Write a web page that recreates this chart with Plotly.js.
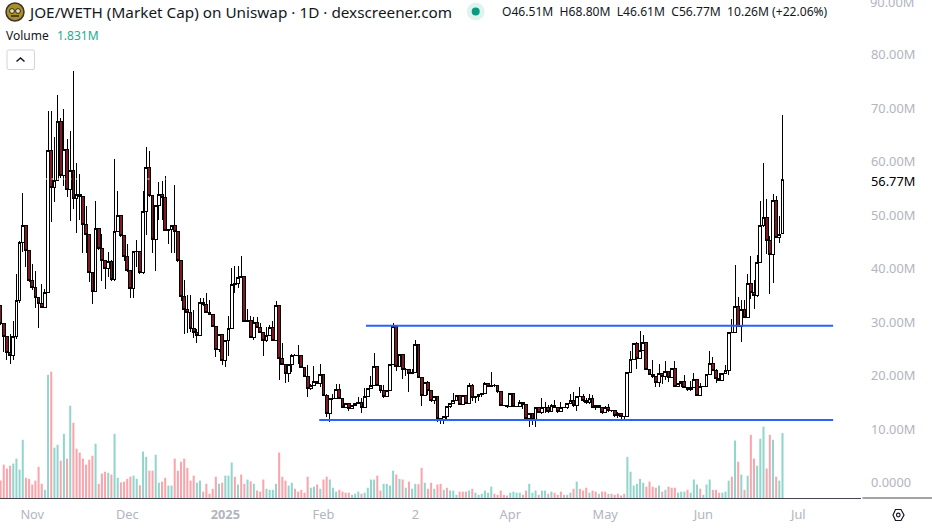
<!DOCTYPE html>
<html><head><meta charset="utf-8">
<script src="https://cdn.plot.ly/plotly-3.0.1.min.js"></script>
<style>
html,body{margin:0;padding:0;background:#fff;overflow:hidden}
#chart{width:932px;height:528px}
.boxlayer path{shape-rendering:crispEdges}
</style></head><body><div id="chart"></div>
<script>
const startDate = "2024-10-22";
const openM = [33.1,29.7,27.4,24.3,23.8,27.4,34.0,45.0,48.0,43.5,
37.8,36.6,34.7,33.5,32.8,35.6,62.1,55.2,56.4,67.6,
57.4,62.3,54.8,58.4,53.1,53.9,53.5,48.2,46.4,39.3,
35.7,47.5,43.8,41.6,40.0,41.4,38.0,46.9,49.9,46.2,
42.3,39.6,36.4,43.2,43.3,39.3,50.7,58.9,53.6,45.5,
51.9,53.9,53.3,47.2,47.4,48.1,47.0,41.6,34.8,32.4,
31.9,28.9,28.1,27.6,33.7,33.4,31.9,31.5,29.2,25.0,
27.8,22.8,26.7,28.9,37.0,37.2,38.4,38.5,30.2,30.4,
27.2,29.9,29.1,28.1,26.6,27.5,29.1,26.6,33.2,23.2,
22.2,20.5,22.2,23.9,23.9,23.8,21.5,19.9,17.7,18.3,
19.0,18.6,20.3,16.3,12.9,15.8,15.8,17.5,15.7,14.1,
14.8,13.9,14.5,14.9,15.1,14.1,16.1,17.7,18.2,21.7,
18.2,17.2,16.1,17.2,22.2,29.3,21.7,24.0,21.2,21.2,
20.4,20.6,25.9,19.7,16.4,18.8,17.2,15.4,16.1,12.1,
11.8,12.4,14.3,14.9,15.4,16.3,14.7,16.3,14.9,18.3,
15.9,16.1,16.6,16.7,18.6,18.0,18.2,18.2,17.0,14.4,
14.4,14.3,16.7,14.3,14.3,15.0,14.6,12.1,13.0,11.8,
14.1,13.2,14.1,14.1,13.3,14.5,14.1,13.3,14.1,14.1,
14.8,15.5,14.5,16.2,16.2,15.5,15.0,15.8,14.1,14.5,
14.1,13.2,14.1,13.5,13.6,12.7,13.0,12.4,12.5,20.7,
23.1,26.1,23.2,24.8,26.3,21.2,20.3,19.8,18.8,20.5,
19.9,20.8,19.7,21.4,18.1,18.5,19.0,17.9,17.5,17.9,
19.4,16.4,18.1,18.1,20.3,22.4,21.1,19.5,19.2,20.5,
21.0,28.1,28.1,32.9,29.2,32.4,31.0,37.3,35.5,35.0,
41.1,48.0,49.6,45.3,42.6,52.7,45.9,46.51];
const closeM = [29.7,27.4,24.3,23.8,27.4,34.0,45.0,48.0,43.5,37.8,
36.6,34.7,33.5,32.8,35.6,62.1,55.2,56.4,67.6,57.4,
62.3,54.8,58.4,53.1,53.9,53.5,48.2,46.4,39.3,35.7,
47.5,43.8,41.6,40.0,41.4,38.0,46.9,49.9,46.2,42.3,
39.6,36.4,43.2,43.3,39.3,50.7,58.9,53.6,45.5,51.9,
53.9,53.3,47.2,47.4,48.1,47.0,41.6,34.8,32.4,31.9,
28.9,28.1,27.6,33.7,33.4,31.9,31.5,29.2,25.0,27.8,
22.8,26.7,28.9,37.0,37.2,38.4,38.5,30.2,30.4,27.2,
29.9,29.1,28.1,26.6,27.5,29.1,26.6,33.2,23.2,22.2,
20.5,22.2,23.9,23.9,23.8,21.5,19.9,17.7,18.3,19.0,
18.6,20.3,16.3,12.9,15.8,15.8,17.5,15.7,14.1,14.8,
13.9,14.5,14.9,15.1,14.1,16.1,17.7,18.2,21.7,18.2,
17.2,16.1,17.2,22.2,29.3,21.7,24.0,21.2,21.2,20.4,
20.6,25.9,19.7,16.4,18.8,17.2,15.4,16.1,12.1,11.8,
12.4,14.3,14.9,15.4,16.3,14.7,16.3,14.9,18.3,15.9,
16.1,16.6,16.7,18.6,18.0,18.2,18.2,17.0,14.4,14.4,
14.3,16.7,14.3,14.3,15.0,14.6,12.1,13.0,11.8,14.1,
13.2,14.1,14.1,13.3,14.5,14.1,13.3,14.1,14.1,14.8,
15.5,14.5,16.2,16.2,15.5,15.0,15.8,14.1,14.5,14.1,
13.2,14.1,13.5,13.6,12.7,13.0,12.4,12.5,20.7,23.1,
26.1,23.2,24.8,26.3,21.2,20.3,19.8,18.8,20.5,19.9,
20.8,19.7,21.4,18.1,18.5,19.0,17.9,17.5,17.9,19.4,
16.4,18.1,18.1,20.3,22.4,21.1,19.5,19.2,20.5,21.0,
28.1,28.1,32.9,29.2,32.4,31.0,37.3,35.5,35.0,41.1,
48.0,49.6,45.3,42.6,52.7,45.9,46.4,56.77];
const highM = [33.1,29.7,27.4,27.8,30.2,39.0,45.2,54.1,48.2,43.5,
40.9,39.5,34.7,37.1,36.3,69.4,69.4,64.7,72.4,68.1,
69.8,64.2,65.7,76.9,59.7,57.8,53.6,51.7,46.4,39.3,
52.6,47.7,46.5,41.6,43.2,41.7,60.5,54.5,50.0,46.2,
44.7,39.6,43.4,45.4,43.4,54.5,62.7,62.0,53.6,52.0,
56.3,56.4,57.3,47.5,48.2,55.6,47.1,41.7,38.0,35.1,
35.1,32.3,28.8,34.6,34.6,35.4,34.2,31.6,29.3,27.9,
27.9,26.8,31.2,40.1,40.6,40.6,42.4,38.6,32.5,31.2,
31.0,31.0,29.8,28.2,29.2,29.5,30.2,34.0,33.3,26.1,
22.3,22.3,24.0,24.0,25.8,23.9,21.6,22.0,18.4,21.8,
19.1,22.3,20.4,16.7,15.9,16.7,18.5,18.5,15.8,14.9,
15.0,14.6,15.0,16.0,15.9,17.7,17.8,20.0,24.2,21.8,
18.3,18.3,17.3,22.3,29.9,29.4,24.1,24.1,21.4,21.3,
21.2,26.7,26.0,19.8,18.9,19.0,17.3,16.2,16.2,12.2,
12.5,14.4,15.0,16.8,16.4,16.4,16.4,16.4,18.6,18.4,
16.2,16.7,16.8,18.8,18.7,20.7,18.4,18.3,17.1,14.5,
14.5,16.8,16.8,14.4,15.5,15.2,14.7,13.1,13.1,14.2,
14.2,15.8,15.2,14.6,14.7,15.5,14.2,15.2,14.2,14.9,
16.6,17.0,16.3,17.9,16.6,15.9,16.7,16.4,14.6,14.6,
14.2,14.3,14.8,13.7,13.7,13.3,13.1,12.6,20.8,24.7,
26.2,26.3,28.3,27.6,26.4,21.3,23.0,19.9,22.2,20.6,
22.8,20.9,21.5,22.8,18.6,19.1,20.2,18.0,19.1,20.5,
19.5,18.6,18.2,20.4,24.6,23.6,21.2,20.6,20.6,22.0,
28.2,30.6,40.7,34.8,34.2,34.2,39.1,42.4,37.9,42.6,
52.7,59.7,53.0,46.1,53.9,53.6,49.9,68.8];
const lowM = [29.6,24.5,23.0,22.3,23.0,26.9,33.6,43.2,40.3,37.6,
36.0,32.6,28.9,32.7,32.8,35.6,48.8,52.5,56.4,57.0,
55.4,53.4,49.0,51.2,46.7,49.1,43.0,42.9,37.5,33.5,
35.7,43.6,37.8,36.2,38.5,37.8,37.8,46.9,46.0,41.5,
39.4,34.6,34.6,40.4,39.1,39.0,46.3,53.5,43.0,39.5,
49.1,49.1,47.1,44.6,43.0,42.9,41.3,34.0,27.8,28.0,
28.2,27.0,26.2,27.5,33.0,31.8,31.4,29.1,23.6,24.5,
22.0,21.6,23.7,28.9,35.4,36.4,38.4,30.0,30.2,27.0,
26.7,29.0,28.0,23.8,26.4,27.4,26.5,26.5,19.2,22.1,
18.7,18.9,20.8,23.8,22.3,21.4,19.8,16.1,17.4,18.2,
18.5,18.0,16.2,12.3,11.4,15.5,15.7,15.6,14.0,14.0,
13.5,13.8,14.4,14.8,13.0,14.0,16.0,17.6,18.1,18.1,
16.9,15.9,16.0,17.1,22.0,21.0,21.6,19.5,19.9,17.0,
20.3,20.5,19.6,14.3,16.3,16.5,15.2,14.8,11.4,11.0,
11.0,12.0,14.0,14.8,15.3,14.6,14.6,14.8,14.8,15.3,
14.9,15.4,16.0,16.6,17.9,18.0,18.0,16.9,14.3,14.3,
14.0,14.2,14.2,14.2,14.2,13.9,11.9,10.4,10.9,10.5,
13.1,12.9,13.0,13.0,13.2,14.0,13.0,13.2,14.0,13.9,
14.7,14.2,13.5,16.0,15.2,14.7,14.8,14.0,13.6,14.0,
12.9,13.1,13.3,13.3,12.3,12.1,12.0,11.6,12.3,20.6,
23.0,21.2,23.1,24.7,21.1,20.2,19.7,18.0,18.0,18.5,
19.2,18.9,19.6,18.0,18.0,18.0,17.8,17.1,17.2,17.8,
16.3,16.3,18.0,18.0,20.2,21.0,18.6,19.1,19.0,20.4,
20.2,28.0,28.0,29.1,26.4,30.9,30.9,34.4,32.5,34.8,
41.0,47.9,42.8,35.3,37.4,45.8,44.9,46.61];
const volumeM = [.49,.94,.83,.91,.97,1.11,.80,1.64,.57,.54,
.38,.49,.88,.40,.23,3.47,3.56,1.42,1.50,1.05,
1.81,1.11,2.60,2.12,1.39,1.28,1.11,.94,1.08,1.19,
1.53,.40,.69,.74,.71,.66,1.81,.57,.44,.46,
.54,.60,.63,.54,.36,1.31,1.16,.77,.77,1.22,
.43,.46,.57,.35,.35,1.11,.77,1.02,1.11,.85,
.49,.63,.43,.49,.18,.40,.12,.26,.60,.40,
.43,.63,.63,1.00,.60,.38,.66,.40,.52,.47,
.40,.21,.18,.52,.26,.23,.23,.40,1.28,.60,
.49,.35,.43,.26,.18,.23,.15,.60,.29,.32,
.38,.26,.52,.60,.52,.29,.18,.23,.18,.15,
.15,.09,.12,.18,.12,.15,.29,.52,.52,.63,
.21,.40,.40,.35,.77,.66,.54,
.52,.29,.46,.26,.40,.39,.85,.43,.26,.43,
.26,.38,.40,.23,.29,.21,.21,.09,.18,.18,
.18,.21,.26,.15,.09,.12,.21,.15,.32,.12,
.09,.21,.09,.07,.15,.18,.15,.15,.09,.21,
.40,.15,.21,.09,.21,.21,.12,.18,.15,.09,
.18,.09,.09,.15,.26,.46,.26,.21,.29,.15,
.21,.18,.12,.18,.18,.12,.12,.09,.12,.07,
.12,1.16,.74,.35,.40,.54,.43,.32,.46,.32,
.29,.35,.18,.23,.32,.29,.29,.15,.18,.18,
.23,.15,.52,.38,.26,.09,.38,.52,.23,.23,
.15,.15,.18,.49,.60,1.62,1.02,.66,.23,.63,
1.78,1.11,.91,1.67,2.01,.83,1.78,1.64,.60,.49,1.831];
const volumeUp = [0,0,0,0,1,1,1,1,0,0,
0,0,0,0,1,1,0,1,1,0,
1,0,1,0,0,0,0,0,0,0,
1,0,0,0,1,0,1,1,0,0,
0,0,1,1,0,1,1,0,0,1,
1,0,0,1,1,0,0,0,0,0,
0,0,1,1,0,0,0,0,0,1,
0,1,1,1,0,1,0,0,1,0,
1,0,0,0,1,1,1,1,0,0,
0,1,1,0,0,0,0,0,1,1,
0,1,0,0,1,1,1,0,0,0,
0,1,1,1,0,1,1,1,1,0,
0,1,1,1,1,0,1,
0,1,0,1,1,0,0,1,0,0,
1,0,0,1,0,1,1,1,0,0,
0,1,0,1,1,1,1,1,1,0,
0,0,0,0,1,1,1,1,0,0,
1,1,1,0,1,1,0,1,0,0,
0,1,0,1,0,1,0,0,0,1,
0,0,1,0,0,1,0,0,0,0,
0,1,1,1,1,1,1,0,0,0,
0,1,0,1,0,0,0,1,1,1,
0,1,1,1,0,1,1,1,0,0,
0,1,1,1,0,1,0,1,0,1,
0,0,1,1,1,0,0,1,0,1,1];
const resistanceM = 29.35, supportM = 11.76, lastPriceM = 56.77;
const resistanceDates = ["2025-02-14 10:00","2025-07-12"];
const supportDates = ["2025-01-30 16:00","2025-07-12"];
const priceTickVals = [0,10,20,30,40,50,60,70,80];
const priceTickText = ["0.0000","10.00M","20.00M","30.00M","40.00M","50.00M","60.00M","70.00M","80.00M"];
const monthTickVals = ["2024-11-01","2024-12-01","2025-01-01","2025-02-01","2025-03-02","2025-04-01","2025-05-01","2025-06-01","2025-07-01"];
const monthTickText = ["Nov","Dec","<b>2025</b>","Feb","2","Apr","May","Jun","Jul"];
const titleText = "JOE/WETH (Market Cap) on Uniswap · 1D · dexscreener.com";
const ohlcText = "O46.51M  H68.80M  L46.61M  C56.77M  10.26M (+22.06%)";

const dates = closeM.map((_, i) => {
  const d = new Date(Date.parse(startDate + "T00:00:00Z") + i * 864e5);
  return d.toISOString().slice(0, 10);
});
const PW = 861, PH = 498;
const PX = x => x / PW, PY = y => 1 - y / PH;
const FONT = '"Noto Sans", sans-serif';
const GREY = "#b2b5be", INK = "#131722";

const traces = [
  {type:"bar", x:dates.slice(0, volumeM.length), y:volumeM, yaxis:"y2", xaxis:"x",
   marker:{color:volumeUp.map(u => u ? "#92d5cc" : "#fba4ab"), line:{width:0}}, hoverinfo:"skip", showlegend:false},
  {type:"candlestick", x:dates, open:openM, high:highM, low:lowM, close:closeM, xaxis:"x", yaxis:"y",
   increasing:{line:{color:"#000000", width:1}, fillcolor:"#ffffff"},
   decreasing:{line:{color:"#000000", width:1}, fillcolor:"#801922"},
   whiskerwidth:0, showlegend:false},
  {type:"scatter", mode:"lines", x:["2024-10-21","2025-07-21"], y:[lastPriceM,lastPriceM],
   line:{color:"#ffffff", width:1, dash:"2px,4px"}, hoverinfo:"skip", showlegend:false},
  {type:"scatter", mode:"lines", x:resistanceDates, y:[resistanceM,resistanceM],
   line:{color:"#2962ff", width:2}, hoverinfo:"skip", showlegend:false},
  {type:"scatter", mode:"lines", x:supportDates, y:[supportM,supportM],
   line:{color:"#2962ff", width:2}, hoverinfo:"skip", showlegend:false}
];

const note = (text, x, y, size, color, anchor, extra) => Object.assign({
  text, xref:"paper", yref:"paper", x:PX(x), y:PY(y), xanchor:anchor || "left", yanchor:"middle",
  showarrow:false, font:{family:FONT, size, color}, borderpad:0, borderwidth:0
}, extra || {});
const circle = (cx, cy, r, fill, line) => ({type:"circle", xref:"paper", yref:"paper",
  x0:PX(cx-r), x1:PX(cx+r), y0:PY(cy+r), y1:PY(cy-r), fillcolor:fill, line:line || {width:0}});

const layout = {
  width:932, height:528, paper_bgcolor:"#fff", plot_bgcolor:"#fff",
  margin:{l:0, r:71, t:0, b:30, pad:0, autoexpand:false},
  bargap:0.36, boxgap:0.12, boxgroupgap:0, showlegend:false, dragmode:false, hovermode:false,
  font:{family:FONT, size:13, color:GREY},
  xaxis:{type:"date", range:["2024-10-21 19:30","2025-07-20 19:12"], showgrid:false, zeroline:false,
    rangeslider:{visible:false}, tickmode:"array", tickvals:monthTickVals, ticktext:monthTickText,
    tickfont:{family:FONT, size:12.8, color:GREY}, ticks:"", ticklabelstandoff:5,
    showline:true, linecolor:"#434651", linewidth:1},
  yaxis:{range:[-2.8,90.2], side:"right", showgrid:false, zeroline:false, tickmode:"array",
    tickvals:priceTickVals, ticktext:priceTickText, tickfont:{family:FONT, size:12.8, color:GREY},
    ticks:"", ticklabelstandoff:9, showline:false},
  yaxis2:{range:[0,14.03], overlaying:"y", side:"left", visible:false, showgrid:false, zeroline:false},
  shapes:[
    {type:"line", xref:"paper", yref:"paper", x0:PX(862.5), x1:PX(932), y0:PY(498), y1:PY(498), line:{color:"#434651", width:1}},
    circle(15, 12, 9, "#a88f2c", {color:"#3b3420", width:1.5}),
    circle(12, 11, 2.4, "#e8e0b0", {color:"#2f2a1a", width:1}),
    circle(18, 11, 2.4, "#e8e0b0", {color:"#2f2a1a", width:1}),
    {type:"line", xref:"paper", yref:"paper", x0:PX(11), x1:PX(19), y0:PY(16), y1:PY(16), line:{color:"#2f2a1a", width:1.5}},
    circle(475.7, 11.5, 9, "#def3ee"),
    circle(475.7, 11.5, 4, "#089981"),
    {type:"path", xref:"paper", yref:"paper",
     path:`M ${PX(9)} ${PY(50)} L ${PX(33)} ${PY(50)} Q ${PX(34.5)} ${PY(50)} ${PX(34.5)} ${PY(51.5)} L ${PX(34.5)} ${PY(68)} Q ${PX(34.5)} ${PY(69.5)} ${PX(33)} ${PY(69.5)} L ${PX(9)} ${PY(69.5)} Q ${PX(7)} ${PY(69.5)} ${PX(7)} ${PY(68)} L ${PX(7)} ${PY(51.5)} Q ${PX(7)} ${PY(50)} ${PX(9)} ${PY(50)} Z`,
     line:{color:"#d1d4dc", width:1}, fillcolor:"#ffffff"},
    {type:"path", xref:"paper", yref:"paper",
     path:`M ${PX(16.5)} ${PY(61.5)} L ${PX(20.5)} ${PY(58)} L ${PX(24.5)} ${PY(61.5)}`,
     line:{color:INK, width:1.5}},
    {type:"path", xref:"paper", yref:"paper",
     path:`M ${PX(893)} ${PY(515)} L ${PX(895.5)} ${PY(509.5)} L ${PX(901)} ${PY(509.5)} L ${PX(904)} ${PY(515)} L ${PX(901)} ${PY(520.5)} L ${PX(895.5)} ${PY(520.5)} Z`,
     line:{color:INK, width:1.2}},
    circle(898.3, 515, 1.8, "#ffffff", {color:INK, width:1.2})
  ],
  annotations:[
    note(titleText, 28, 12, 15.3, INK),
    note(ohlcText, 501.5, 12, 12.1, INK),
    note("Volume", 6, 35.5, 12, INK),
    note("1.831M", 57, 35.5, 12, "#22ab94"),
    note("56.77M", 871, 180.5, 12.8, "#000000", "left", {bgcolor:"#ffffff"}),
    note("90.00M", 870, 1.5, 12.8, GREY)
  ]
};
Plotly.newPlot("chart", traces, layout, {displayModeBar:false, staticPlot:true});
</script></body></html>
